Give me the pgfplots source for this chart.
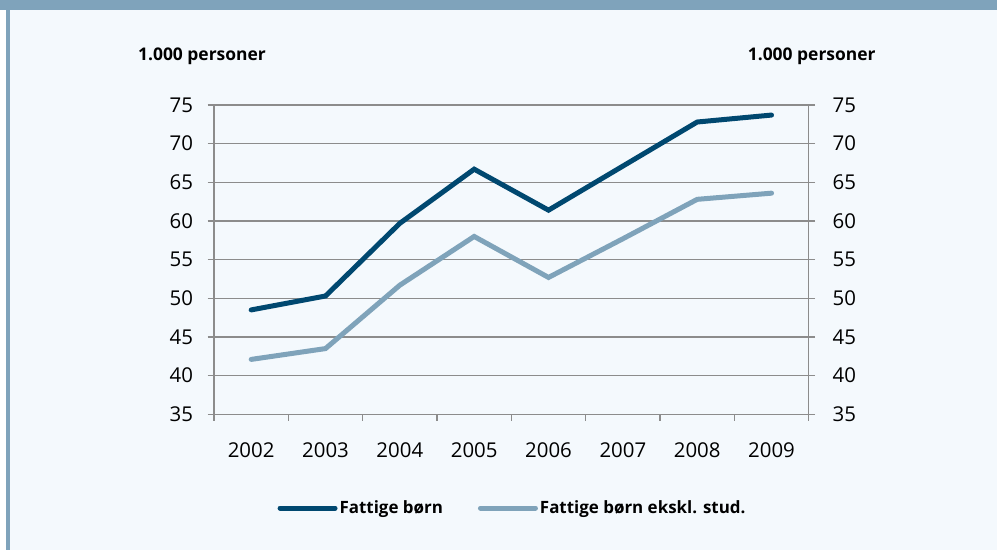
\documentclass[border=0pt]{standalone}
\usepackage{pgfplots}
\pgfplotsset{compat=1.18}
\usepackage{fontspec}
\setmainfont{Open Sans}
\definecolor{band}{HTML}{7FA3BB}
\definecolor{bg}{HTML}{F4F9FD}
\definecolor{darkl}{HTML}{004870}
\definecolor{lightl}{HTML}{7FA3BA}
\definecolor{gridc}{HTML}{8C8C8C}
\begin{document}
\begin{tikzpicture}
\useasboundingbox (0,0) rectangle (997bp,-550bp);
\fill[white] (0,0) rectangle (997bp,-550bp);
\fill[band] (0,0) rectangle (997bp,-10bp);
\fill[band] (6bp,0) rectangle (10bp,-550bp);
\fill[bg] (10bp,-10bp) rectangle (997bp,-550bp);
\node[font=\fontsize{17.5}{20}\selectfont\bfseries] at (202bp,-56bp) {1.000 personer};
\node[font=\fontsize{17.5}{20}\selectfont\bfseries] at (811.7bp,-56bp) {1.000 personer};
\begin{axis}[
  at={(214bp,-414.3bp)}, anchor=south west,
  scale only axis, width=594.7bp, height=309.3bp,
  xmin=0, xmax=8, ymin=35, ymax=75,
  ytick={35,40,...,75},
  xtick={0,...,8}, xticklabels={},
  extra x ticks={0.5,1.5,2.5,3.5,4.5,5.5,6.5,7.5},
  extra x tick labels={2002,2003,2004,2005,2006,2007,2008,2009},
  extra x tick style={tick style={draw=none}},
  axis x line*=bottom, axis y line*=left,
  ymajorgrids,
  grid style={gridc, line width=1.2bp},
  axis line style={gridc, line width=1.2bp, -},
  tick style={gridc, line width=1.2bp},
  tick align=outside, major tick length=6.5bp,
  tick label style={font=\fontsize{20.5}{23}\selectfont, text=black},
  /pgf/number format/assume math mode=true,
  yticklabel style={xshift=-11bp},
  xticklabel style={yshift=-18bp},
  legend style={at={(0.502,-0.303)}, anchor=center, draw=none, fill=none,
    font=\fontsize{17}{20}\selectfont\bfseries,
    nodes={inner sep=2bp},
    /tikz/every even column/.append style={column sep=33bp}},
  legend columns=2,
  legend image code/.code={\draw[#1] (0bp,0bp) -- (55bp,0bp);},
]
\addplot[darkl, line width=5bp, line cap=round] coordinates {
(0.5,48.5) (1.5,50.3) (2.5,59.7) (3.5,66.7) (4.5,61.4) (5.5,67.1) (6.5,72.8) (7.5,73.7)};
\addlegendentry{Fattige børn}
\addplot[lightl, line width=5bp, line cap=round] coordinates {
(0.5,42.1) (1.5,43.5) (2.5,51.7) (3.5,58.0) (4.5,52.7) (5.5,57.7) (6.5,62.8) (7.5,63.6)};
\addlegendentry{Fattige børn ekskl. stud.}
\end{axis}
\begin{axis}[
  at={(214bp,-414.3bp)}, anchor=south west,
  scale only axis, width=594.7bp, height=309.3bp,
  xmin=0, xmax=8, ymin=35, ymax=75,
  ytick={35,40,...,75},
  axis x line=none, axis y line*=right,
  axis line style={gridc, line width=1.2bp, -},
  tick style={gridc, line width=1.2bp},
  tick align=outside, major tick length=6.5bp,
  tick label style={font=\fontsize{20.5}{23}\selectfont, text=black},
  /pgf/number format/assume math mode=true,
  yticklabel style={xshift=14bp},
]
\end{axis}
\end{tikzpicture}
\end{document}
